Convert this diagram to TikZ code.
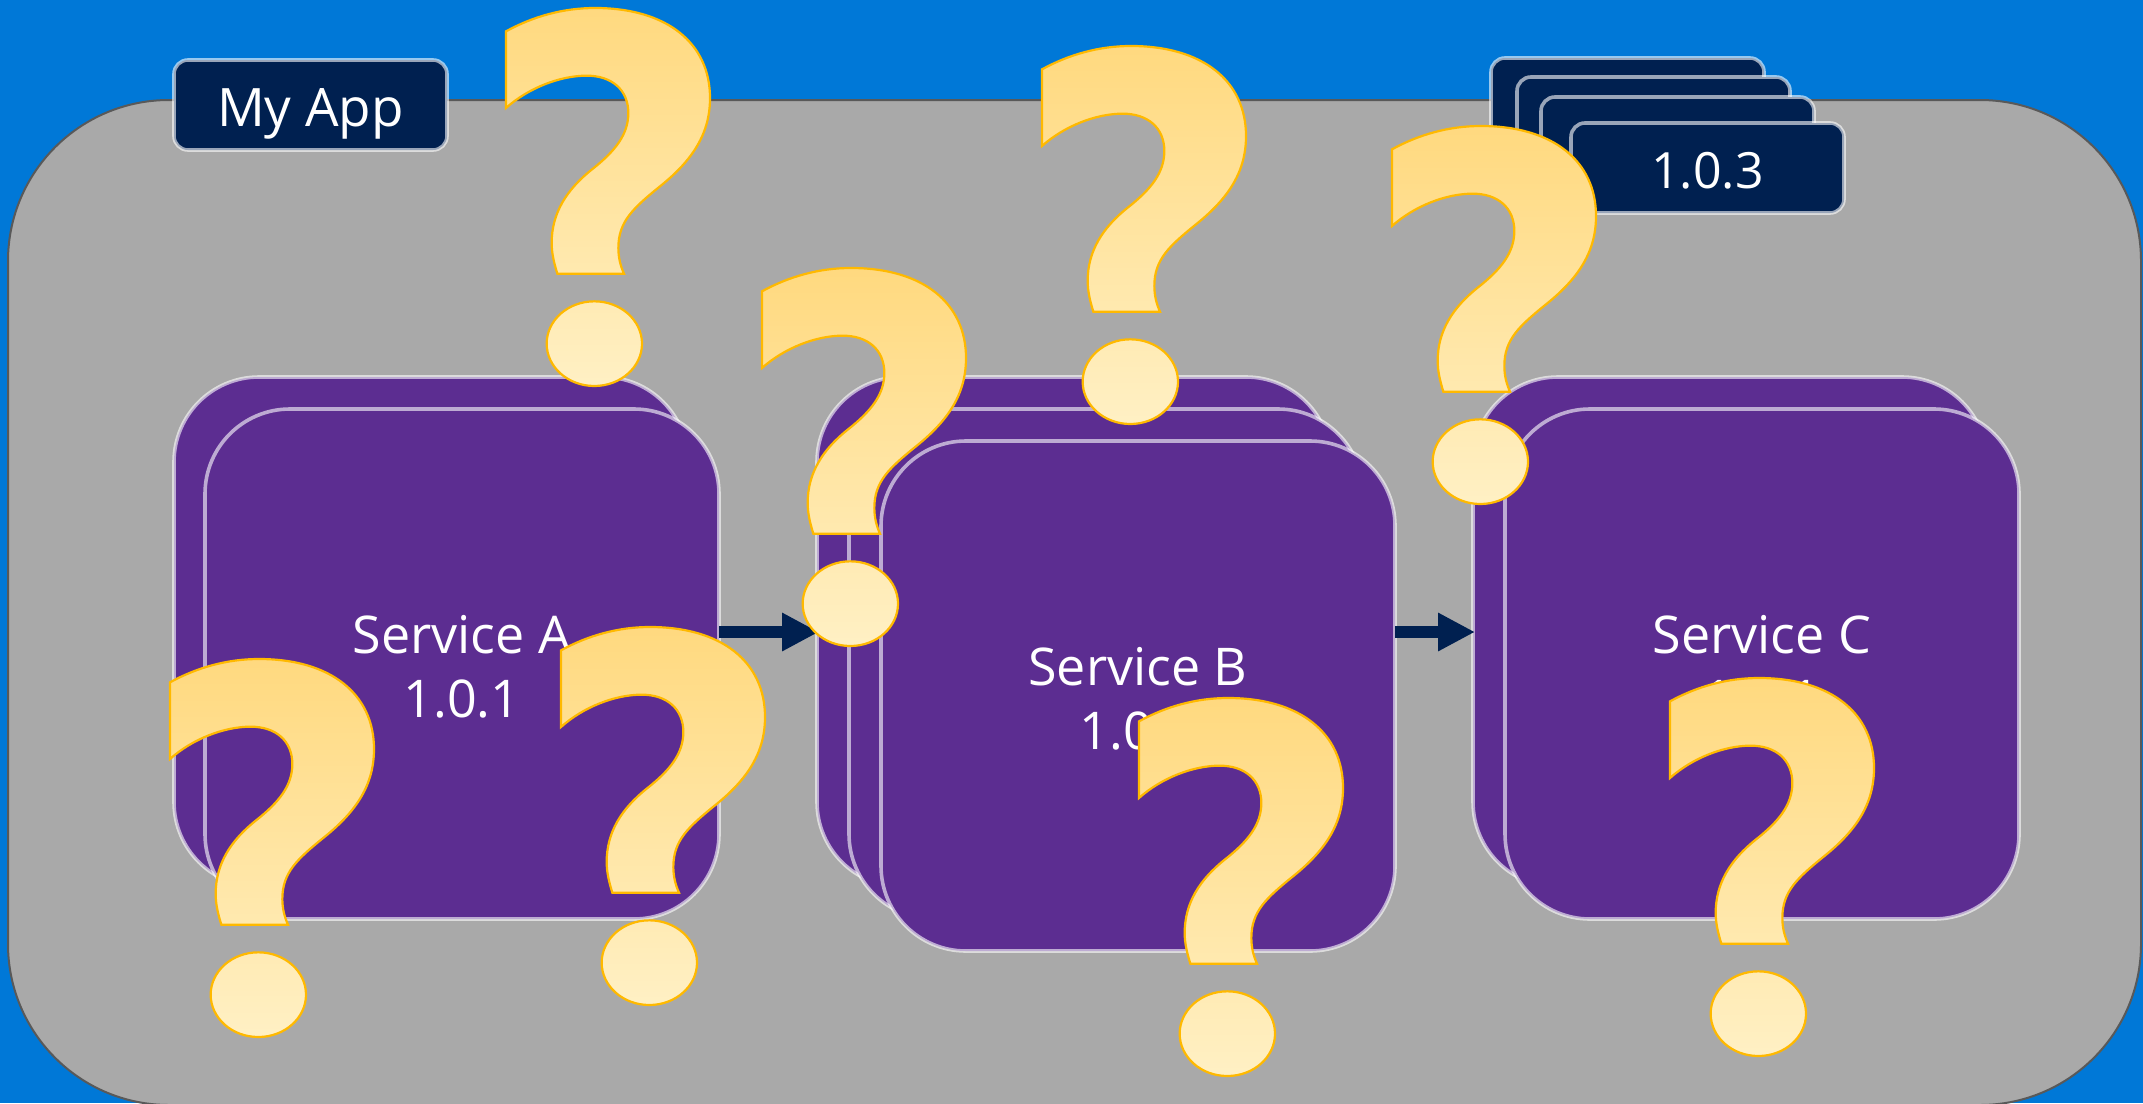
\documentclass[tikz,border=0pt]{standalone}
\usepackage{fontspec}
\setmainfont{Open Sans}
\usetikzlibrary{arrows.meta}
\definecolor{bluebg}{HTML}{0078D7}
\definecolor{greybg}{HTML}{A9A9A9}
\definecolor{navy}{HTML}{002050}
\definecolor{purp}{HTML}{5C2D91}
\definecolor{qline}{HTML}{FFB900}
\definecolor{qtop}{HTML}{FFD97F}
\definecolor{qbot}{HTML}{FFF0C4}
\tikzset{
  x=1pt,y=-1pt,
  panel/.style={draw=white,draw opacity=.6,line width=3.6pt,inner sep=0pt,outer sep=0pt,anchor=north west,text=white,align=center},
  svc/.style={panel,fill=purp,rounded corners=85pt,minimum width=514pt,minimum height=510pt,font=\fontsize{52}{64}\selectfont},
  tag/.style={panel,fill=navy,rounded corners=14pt,minimum width=273pt,minimum height=90pt,font=\fontsize{50}{60}\selectfont},
  link/.style={draw=navy,line width=12pt,shorten >=-2pt,-{Triangle[length=37pt,width=36pt]}},
  qmark/.pic={
    \path[draw=qline,line width=2.2pt,top color=qtop,bottom color=qbot,shift={(-78,-25)}]
      (78,95) .. controls (160,50) and (250,25) .. (345,25)
      .. controls (560,25) and (690,130) .. (690,295)
      .. controls (690,400) and (640,480) .. (540,560)
      .. controls (460,625) and (415,665) .. (415,745)
      .. controls (415,775) and (422,800) .. (432,822)
      -- (232,822)
      .. controls (222,790) and (215,760) .. (215,730)
      .. controls (215,640) and (260,570) .. (335,510)
      .. controls (405,455) and (445,405) .. (445,340)
      .. controls (445,270) and (395,228) .. (320,228)
      .. controls (240,228) and (145,265) .. (78,325) -- cycle
      (343,1032) ellipse [x radius=143,y radius=127];
  }
}
\begin{document}
\begin{tikzpicture}
\useasboundingbox[fill=bluebg] (0,0) rectangle (2143,1103);
\node[draw=black!65,line width=2pt,fill=greybg,rounded corners=161pt,minimum width=2133pt,minimum height=1005pt,anchor=north west,inner sep=0pt,outer sep=0pt] (canvas) at (8,100) {};
% version tags
\node[tag] (v0) at (1491,58) {};
\node[tag] (v1) at (1517,77) {};
\node[tag] (v2) at (1541,97) {};
\node[tag] (v3) at (1571,123) {\rule{0pt}{41pt}1.0.3};
\node[tag,font=\fontsize{53}{60}\selectfont] (app) at (174,60) {\rule{0pt}{56pt}My App};
% services
\node[svc] (ab) at (174,377) {};
\node[svc] (af) at (205,409) {\rule{0pt}{43pt}Service A\\1.0.1};
\node[svc] (bb) at (817,377) {};
\node[svc] (bm) at (849,409) {};
\node[svc] (bf) at (881,441) {\rule{0pt}{43pt}Service B\\1.0.2};
\node[svc] (cb) at (1473,377) {};
\node[svc] (cf) at (1505,409) {\rule{0pt}{43pt}Service C\\1.0.1};
% connectors
\draw[link] (af.east |- bb.west) -- (bb.west);
\draw[link] (bf.east |- cb.west) -- (cb.west);
% question marks
\pic[scale=1/3] (q1) at (506,8) {qmark};
\pic[scale=1/3] (q2) at (1042,46) {qmark};
\pic[scale=1/3] (q3) at (1392,126) {qmark};
\pic[scale=1/3] (q4) at (762,268) {qmark};
\pic[scale=1/3] (q5) at (561,627) {qmark};
\pic[scale=1/3] (q6) at (170,659) {qmark};
\pic[scale=1/3] (q7) at (1139,698) {qmark};
\pic[scale=1/3] (q8) at (1670,678) {qmark};
\end{tikzpicture}
\end{document}
